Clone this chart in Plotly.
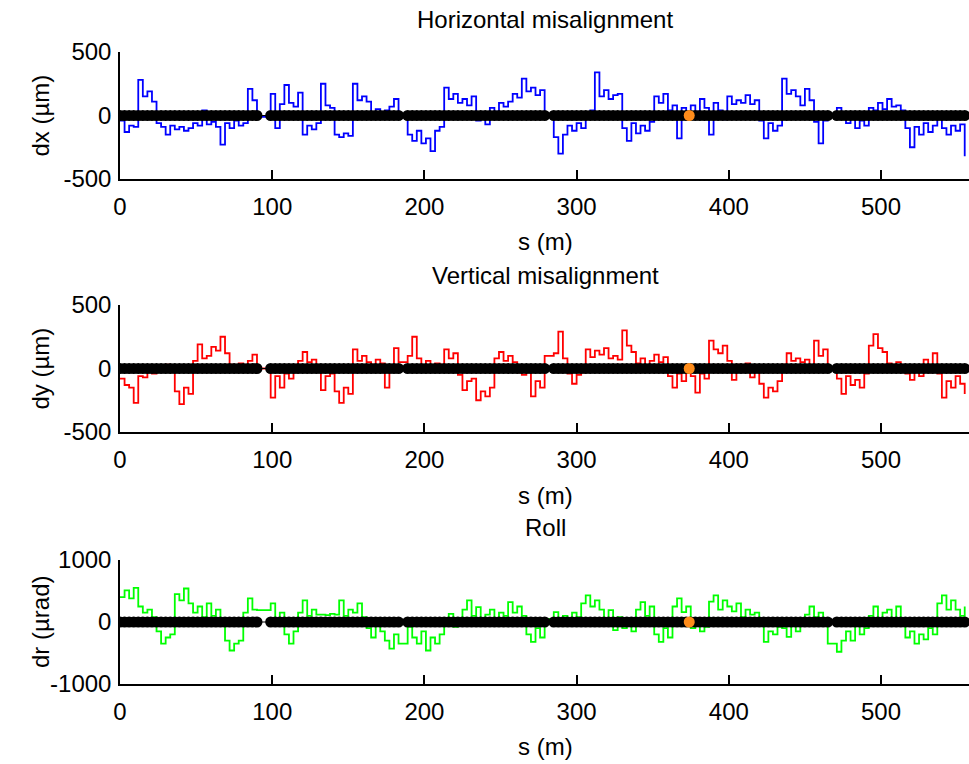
import plotly.graph_objects as go

# element positions along the ring (m)
s = [0, 3, 6, 9, 12, 15, 18, 21, 24, 27, 30, 33, 36, 39, 42, 45, 48, 51, 54, 57,
     60, 63, 66, 69, 72, 75, 78, 81, 84, 87, 90,
     99, 102, 105, 108, 111, 114, 117, 120, 123, 126, 129, 132, 135, 138, 141, 144,
     147, 150, 153, 156, 159, 162, 165, 168, 171, 174, 177, 180, 183,
     189, 192, 195, 198, 201, 204, 207, 210, 213, 216, 219, 222, 225, 228, 231, 234,
     237, 240, 243, 246, 249, 252, 255, 258, 261, 264, 267, 270, 273, 276, 279,
     285, 288, 291, 294, 297, 300, 303, 306, 309, 312, 315, 318, 321, 324, 327, 330,
     333, 336, 339, 342, 345, 348, 351, 354, 357, 360, 363, 366, 369, 372, 375, 378,
     381, 384, 387, 390, 393, 396, 399, 402, 405, 408, 411, 414, 417, 420, 423, 426,
     429, 432, 435, 438, 441, 444, 447, 450, 453, 456, 459, 462, 465,
     471, 474, 477, 480, 483, 486, 489, 492, 495, 498, 501, 504, 507, 510, 513, 516,
     519, 522, 525, 528, 531, 534, 537, 540, 543, 546, 549, 552, 555]

dx = [-40, -130, -80, -90, 280, 150, 190, 110, -60, -90, -150, -80, -110, -90, -120, -100, -60, -80, 40, -70,
      -50, -90, -230, -60, -100, -40, -80, -60, 210, 120, -10,
      170, -100, 90, 240, 100, 70, 180, -150, -80, -110, -60, 250, 80, 60, -150, -170,
      -140, -160, 250, 120, 150, 110, 20, 50, -10, 40, 70, 130, 10,
      -150, -200, -120, -220, -180, -280, -120, -90, 220, 130, 170, 100, 130, 80, 150, -40,
      10, -70, 60, 30, 100, 70, 110, 170, 140, 290, 190, 220, 160, 200, 0,
      -170, -300, -150, -80, -120, -60, -100, 20, 40, 340, 150, 200, 130, 160, 170, -100,
      -200, -60, -140, -80, -120, -50, 150, 100, 170, 40, 80, -180, 60, -20, 80, 30,
      130, 60, -150, 100, 40, -30, 150, 90, 120, 100, 160, 90, 120, -40, -180, -60,
      -120, -80, 290, 170, 200, 150, 80, 210, 120, -50, -220, -40, 10,
      60, 20, -60, -20, -100, -40, -80, 60, 40, 100, 50, 130, 70, 80, 40, -100,
      -250, -90, -150, -60, -130, -80, 0, -100, -150, -80, -120, -70, -320]

dy = [-80, -130, -150, -270, -60, -70, -30, -40, 20, 0, 30, 10, -180, -280, -150, -200, 60, 190, 80, 100,
      170, 140, 250, 120, 30, 20, 40, 20, 60, 110, 0,
      -230, -60, -150, -40, -80, -30, 60, 130, 50, 70, -20, -170, -60, -40, -180, -270,
      -150, -200, 150, 60, 100, 50, 30, 70, 40, -150, -20, 160, 50,
      100, 250, 80, 20, 60, 0, 40, 30, 150, 80, 120, -50, -170, -100, -80, -250,
      -180, -220, -150, 80, 130, 60, 100, 50, -30, -50, -20, -220, -100, -150, 100,
      120, 290, 80, -40, -120, -50, -30, 150, 90, 140, 110, 160, 80, 100, 70, 300,
      180, 130, 40, 80, 20, 60, 110, 50, 90, -60, -150, -40, -100, -20, -60, -190,
      -40, -80, 220, 150, 120, 180, 60, -90, 30, -20, 40, -70, 20, -120, -230, -150,
      -180, -100, 30, 120, 60, 80, 50, 70, 10, 220, 100, 150, 0,
      -80, -200, -60, -130, -90, -150, -40, 180, 270, 160, 130, 40, 30, 50, 20, -40,
      -90, -20, -60, 70, -30, 120, -40, -230, -100, -150, -60, -120, -200]

dr = [400, 510, 380, 550, 250, 150, 200, 80, -150, -350, -250, -200, 450, 350, 540, 300, 150, 250, 80, 300,
      100, 200, 50, -300, -460, -350, -300, 150, 380, 200, 190,
      300, 50, 150, -200, -350, -150, 150, 350, 100, 200, 120, 120, 110, 130, 120, 350,
      100, 200, 150, 300, 80, -100, -250, -50, -150, -300, -430, -200, -350,
      -80, -250, -350, -150, -460, -250, -350, -200, 0, 130, -80, 50, 200, 350, 100, 240,
      0, 120, 200, 50, 150, 100, 320, 150, 250, 100, -200, -320, -100, -250, 50,
      160, 0, 100, 50, 150, 80, 300, 430, 250, 350, 200, 50, 190, -130, 80, -100,
      -50, -150, 200, 320, 100, 250, -200, -320, -100, -250, 250, 380, 160, 250, -100, -50,
      -150, -80, 330, 430, 200, 350, 250, 170, 300, 80, 200, 120, 150, -30, -320, -150,
      -200, -80, -100, -240, 0, -150, -60, 120, 250, 80, 150, 50, -350,
      -480, -300, -150, -300, -30, -200, -100, 100, 250, 30, 150, 200, 50, 250, -50, -250,
      -150, -350, -200, -280, -100, -200, 300, 430, 200, 350, 200, 100, 250]

zero_line = [0] * len(s)
bpm_s = [374]
bpm_val = [0]

titles = ["Horizontal misalignment", "Vertical misalignment", "Roll"]
ylabels = ["dx (\u00b5m)", "dy (\u00b5m)", "dr (\u00b5rad)"]
xlabel = "s (m)"
colors = ["#0000FF", "#FF0000", "#00FF00"]
yranges = [[-500, 500], [-500, 500], [-1000, 1000]]
yticks = [[-500, 0, 500], [-500, 0, 500], [-1000, 0, 1000]]
yticktext = [["-500", "0", "500"], ["-500", "0", "500"], ["-1000", "0", "1000"]]
xticks = [0, 100, 200, 300, 400, 500]

W, H = 969, 764
L = 120
FONT = "Liberation Sans, Arial, sans-serif"
FS = 24

# pixel extents of each panel (top, bottom)
panels = [(52, 179), (305, 432), (560, 684)]
title_py = [20, 275, 527]
xlab_py = [242, 495, 746]

fig = go.Figure()
series = [dx, dy, dr]
for i in range(3):
    ax = "" if i == 0 else str(i + 1)
    fig.add_trace(go.Scatter(x=s, y=series[i], mode="lines", line=dict(color=colors[i], width=1.8, shape="hv"),
                             xaxis="x" + ax, yaxis="y" + ax, showlegend=False, hoverinfo="skip"))
    fig.add_trace(go.Scatter(x=s, y=zero_line, mode="lines+markers", line=dict(color="black", width=1.2),
                             marker=dict(color="black", size=11, symbol="circle"),
                             xaxis="x" + ax, yaxis="y" + ax, showlegend=False, hoverinfo="skip"))
    fig.add_trace(go.Scatter(x=bpm_s, y=bpm_val, mode="markers",
                             marker=dict(color="#FF8C1A", size=11, symbol="circle"),
                             xaxis="x" + ax, yaxis="y" + ax, showlegend=False, hoverinfo="skip"))

layout = dict(width=W, height=H, margin=dict(l=L, r=0, t=0, b=0, autoexpand=False),
              paper_bgcolor="white", plot_bgcolor="white",
              font=dict(family=FONT, size=FS, color="black"))
xmax = (W - L) / 1.522
annotations = []
for i in range(3):
    ax = "" if i == 0 else str(i + 1)
    top, bot = panels[i]
    dom = [1 - bot / H, 1 - top / H]
    layout["xaxis" + ax] = dict(domain=[0, 1], range=[0, xmax], anchor="y" + ax, showline=True,
                                linecolor="black", linewidth=1.5, ticks="inside", ticklen=9,
                                tickcolor="black", tickwidth=1.5, tickvals=xticks, showgrid=False,
                                zeroline=False, tickfont=dict(size=FS), automargin=False,
                                ticklabelstandoff=5)
    layout["yaxis" + ax] = dict(domain=dom, range=yranges[i], anchor="x" + ax, showline=True,
                                linecolor="black", linewidth=1.5, ticks="inside", ticklen=9,
                                tickcolor="black", tickwidth=1.5, tickvals=yticks[i],
                                ticktext=yticktext[i], showgrid=False,
                                zeroline=False, tickfont=dict(size=FS), automargin=False,
                                ticklabelstandoff=2)
    annotations.append(dict(text=titles[i], xref="paper", yref="paper", x=(545 - L) / (W - L),
                            y=1 - title_py[i] / H, showarrow=False, xanchor="center", yanchor="middle"))
    annotations.append(dict(text=xlabel, xref="paper", yref="paper", x=(545 - L) / (W - L),
                            y=1 - xlab_py[i] / H, showarrow=False, xanchor="center", yanchor="middle"))
    annotations.append(dict(text=ylabels[i], xref="paper", yref="paper", x=(40 - L) / (W - L),
                            y=1 - (top + bot) / 2 / H, showarrow=False, xanchor="center",
                            yanchor="middle", textangle=-90))
layout["annotations"] = annotations
fig.update_layout(**layout)
fig.write_html("out.html")
